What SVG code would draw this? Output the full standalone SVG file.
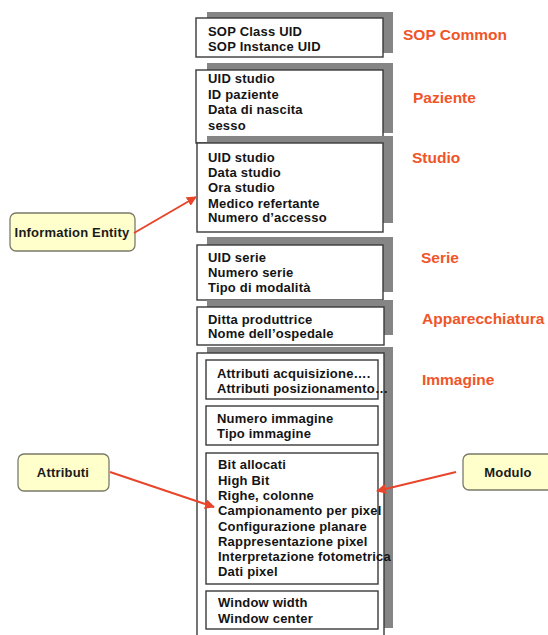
<svg xmlns="http://www.w3.org/2000/svg" width="548" height="635" viewBox="0 0 548 635">
  <defs>
    <style>
      .shade { fill: #858585; }
      .box { fill: #ffffff; stroke: #3a3a3a; stroke-width: 1.4; }
      .item { font-family: "Liberation Sans", Arial, sans-serif; font-weight: bold; font-size: 13px; letter-spacing: 0.2px; fill: #141414; }
      .title { font-family: "Liberation Sans", Arial, sans-serif; font-weight: bold; font-size: 15.5px; fill: #f0552a; }
      .note { fill: #ffffcc; stroke: #7a7a6a; stroke-width: 1.3; }
      .notetxt { font-family: "Liberation Sans", Arial, sans-serif; font-weight: bold; font-size: 13px; letter-spacing: 0.2px; fill: #1a1a1a; text-anchor: middle; }
      .link { stroke: #e8452a; stroke-width: 2; fill: none; marker-end: url(#head); }
    </style>
    <marker id="head" viewBox="0 0 10 10" refX="9" refY="5" markerWidth="5" markerHeight="5" orient="auto">
      <path d="M0,0 L10,5 L0,10 z" fill="#e8452a"/>
    </marker>
  </defs>

  <rect width="548" height="635" fill="#ffffff"/>

  <!-- SOP Common -->
  <g id="sop-common">
    <rect class="shade" x="207" y="12" width="186" height="41"/>
    <rect class="box" x="196" y="18" width="187" height="39"/>
    <text class="item" x="208" y="36">SOP Class UID</text>
    <text class="item" x="208" y="51">SOP Instance UID</text>
    <text class="title" x="403" y="40">SOP Common</text>
  </g>

  <!-- Paziente -->
  <g id="paziente">
    <rect class="shade" x="207" y="63" width="186" height="70"/>
    <rect class="box" x="196" y="70" width="187" height="73"/>
    <text class="item" x="208" y="83">UID studio</text>
    <text class="item" x="208" y="99">ID paziente</text>
    <text class="item" x="208" y="114">Data di nascita</text>
    <text class="item" x="208" y="130">sesso</text>
    <text class="title" x="413" y="103">Paziente</text>
  </g>

  <!-- Studio -->
  <g id="studio">
    <rect class="shade" x="207" y="136" width="186" height="87"/>
    <rect class="box" x="197" y="143" width="186" height="89"/>
    <text class="item" x="208" y="162">UID studio</text>
    <text class="item" x="208" y="177">Data studio</text>
    <text class="item" x="208" y="192">Ora studio</text>
    <text class="item" x="208" y="208">Medico refertante</text>
    <text class="item" x="208" y="222">Numero d’accesso</text>
    <text class="title" x="412" y="163">Studio</text>
  </g>

  <!-- Serie -->
  <g id="serie">
    <rect class="shade" x="207" y="237" width="186" height="55"/>
    <rect class="box" x="197" y="245" width="186" height="55"/>
    <text class="item" x="208" y="262">UID serie</text>
    <text class="item" x="208" y="277">Numero serie</text>
    <text class="item" x="208" y="292">Tipo di modalità</text>
    <text class="title" x="421" y="263">Serie</text>
  </g>

  <!-- Apparecchiatura -->
  <g id="apparecchiatura">
    <rect class="shade" x="207" y="300" width="186" height="35"/>
    <rect class="box" x="197" y="307" width="187" height="38"/>
    <text class="item" x="208" y="324">Ditta produttrice</text>
    <text class="item" x="208" y="338">Nome dell’ospedale</text>
    <text class="title" x="422" y="324">Apparecchiatura</text>
  </g>

  <!-- Immagine -->
  <g id="immagine">
    <rect class="shade" x="207" y="347" width="186" height="281"/>
    <rect class="box" x="197" y="353" width="187" height="290"/>
    <text class="title" x="422" y="385">Immagine</text>
  </g>

  <g id="modulo-acquisizione">
    <rect class="box" x="206" y="360" width="172" height="39"/>
    <text class="item" x="217" y="378">Attributi acquisizione….</text>
    <text class="item" x="217" y="393">Attributi posizionamento…</text>
  </g>

  <g id="modulo-numero">
    <rect class="box" x="206" y="406" width="172" height="39"/>
    <text class="item" x="217" y="423">Numero immagine</text>
    <text class="item" x="217" y="438">Tipo immagine</text>
  </g>

  <g id="modulo-pixel">
    <rect class="box" x="206" y="453" width="172" height="131"/>
    <text class="item" x="218" y="469">Bit allocati</text>
    <text class="item" x="218" y="485">High Bit</text>
    <text class="item" x="218" y="500">Righe, colonne</text>
    <text class="item" x="218" y="515">Campionamento per pixel</text>
    <text class="item" x="218" y="531">Configurazione planare</text>
    <text class="item" x="218" y="546">Rappresentazione pixel</text>
    <text class="item" x="218" y="561">Interpretazione fotometrica</text>
    <text class="item" x="218" y="576">Dati pixel</text>
  </g>

  <g id="modulo-window">
    <rect class="box" x="206" y="591" width="172" height="38"/>
    <text class="item" x="218" y="607">Window width</text>
    <text class="item" x="218" y="623">Window center</text>
  </g>

  <!-- callouts -->
  <g id="information-entity">
    <rect class="note" x="10" y="213" width="125" height="38" rx="6"/>
    <text class="notetxt" x="72" y="237">Information Entity</text>
  </g>

  <g id="attributi">
    <rect class="note" x="18" y="454" width="91" height="37" rx="6"/>
    <text class="notetxt" x="63" y="477">Attributi</text>
  </g>

  <g id="modulo">
    <rect class="note" x="463" y="454" width="95" height="36" rx="6"/>
    <text class="notetxt" x="508" y="477">Modulo</text>
  </g>

  <g id="connectors">
    <line class="link" x1="134" y1="233" x2="196" y2="197"/>
    <line class="link" x1="110" y1="472" x2="214" y2="507"/>
    <line class="link" x1="456" y1="472" x2="377" y2="491"/>
  </g>
</svg>
